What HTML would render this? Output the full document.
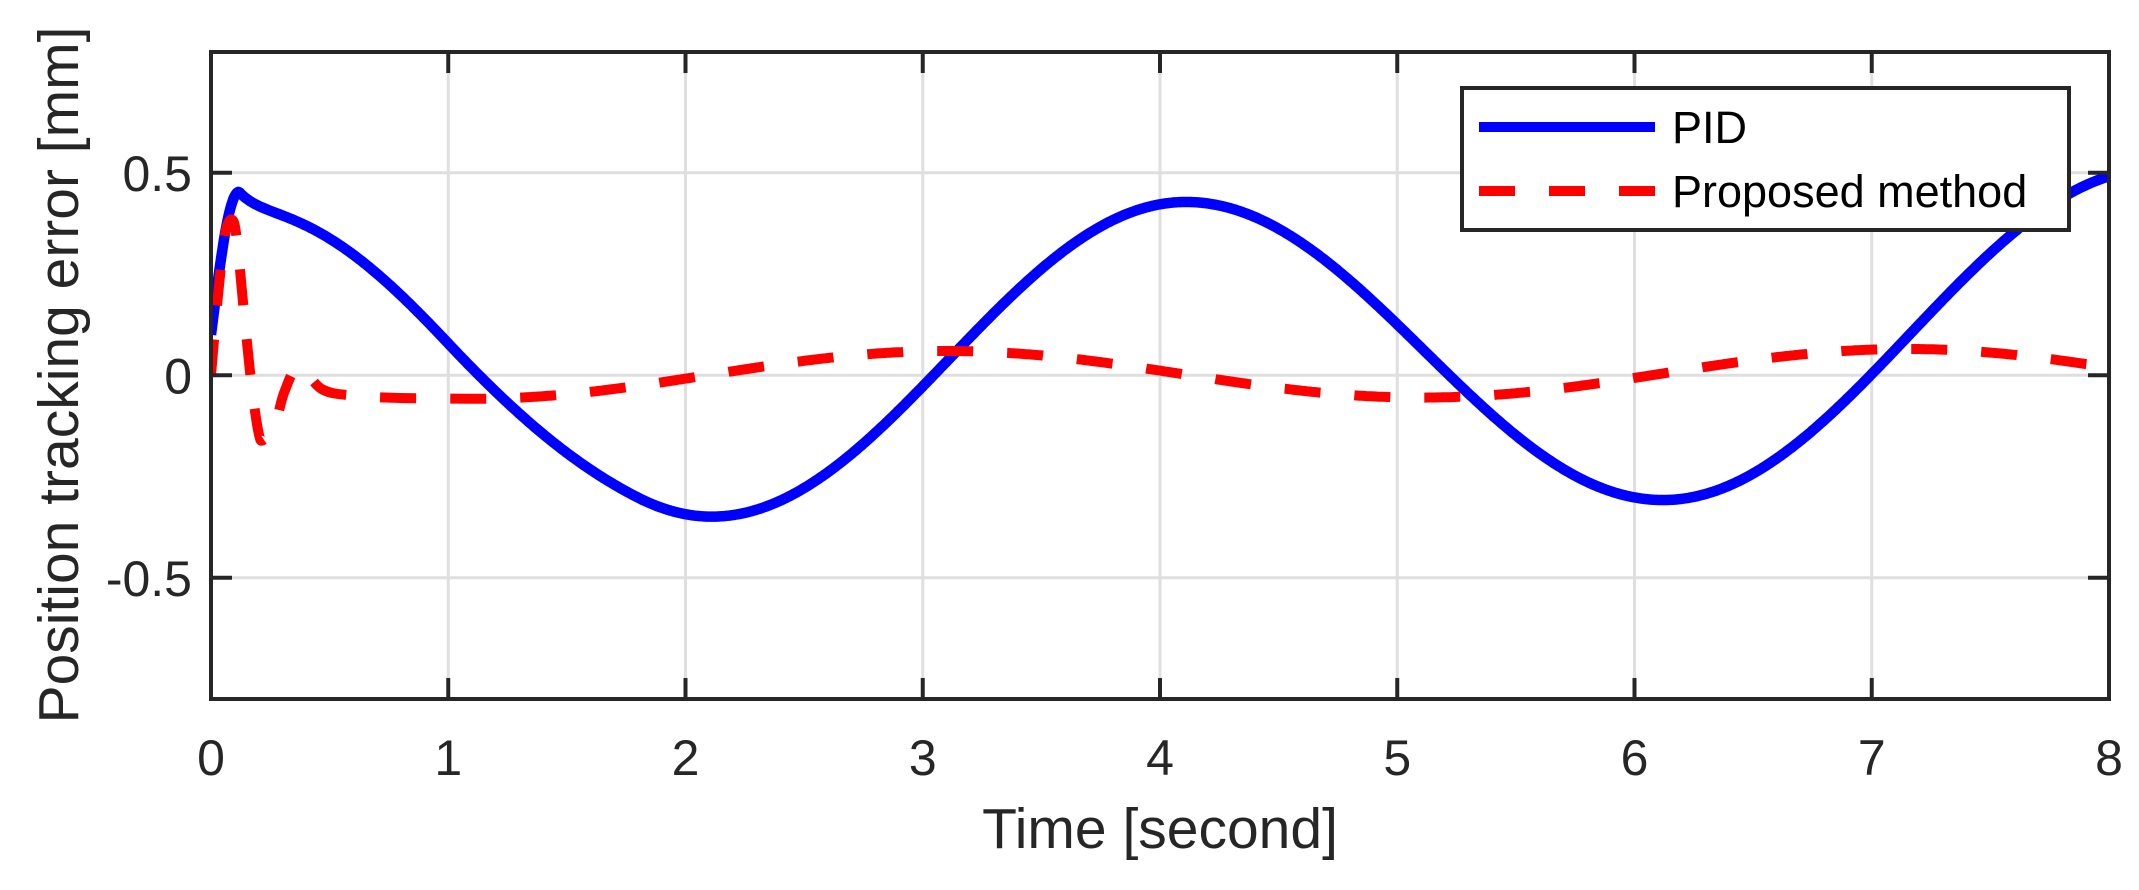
<!DOCTYPE html>
<html><head><meta charset="utf-8"><style>
html,body{margin:0;padding:0;background:#fff;}
svg{display:block;}
text{font-family:"Liberation Sans",Arial,sans-serif;fill:#262626;}
</style></head><body>
<svg id="s" width="2139" height="890" xmlns="http://www.w3.org/2000/svg">
<defs><clipPath id="c"><rect x="211" y="52" width="1898" height="647"/></clipPath></defs>
<rect width="2139" height="890" fill="#fff"/>
<g id="grid" stroke="#dfdfdf" stroke-width="3"></g>
<g clip-path="url(#c)">
<path id="blue" fill="none" stroke="#0000ff" stroke-width="10.5" stroke-linejoin="round"/>
<path id="red" fill="none" stroke="#ff0000" stroke-width="10" stroke-dasharray="36 34"/>
</g>
<g id="ticks" stroke="#262626" stroke-width="4"></g>
<rect x="211" y="52" width="1898" height="647" fill="none" stroke="#262626" stroke-width="4"/>
<g id="labels"></g>
<text x="1160" y="848" style="font-size:57px" text-anchor="middle">Time [second]</text>
<text transform="translate(78,375) rotate(-90)" style="font-size:57px" text-anchor="middle">Position tracking error [mm]</text>
<rect x="1462" y="88" width="607" height="142" fill="#fff" stroke="#262626" stroke-width="4"/>
<line x1="1479" y1="127" x2="1655" y2="127" stroke="#0000ff" stroke-width="10"/>
<line x1="1479" y1="191" x2="1655" y2="191" stroke="#ff0000" stroke-width="10" stroke-dasharray="36 34"/>
<text x="1672" y="143" style="font-size:45px;fill:#000">PID</text>
<text x="1672" y="207" style="font-size:45px;fill:#000">Proposed method</text>
</svg>
<script>
var X=function(t){return 211+t*237.25;}, Y=function(e){return 375.3-e*405;};
var ns="http://www.w3.org/2000/svg";
function el(p,n,a,txt){var e=document.createElementNS(ns,n);for(var k in a)e.setAttribute(k,a[k]);if(txt!=null)e.textContent=txt;document.getElementById(p).appendChild(e);return e;}
for(var i=1;i<8;i++){el("grid","line",{x1:X(i),y1:52,x2:X(i),y2:699});}
[0.5,0,-0.5].forEach(function(v){el("grid","line",{x1:211,y1:Y(v),x2:2109,y2:Y(v)});});
for(var i=0;i<=8;i++){el("ticks","line",{x1:X(i),y1:699,x2:X(i),y2:678});el("ticks","line",{x1:X(i),y1:52,x2:X(i),y2:73});
 el("labels","text",{x:X(i),y:775,"text-anchor":"middle",style:"font-size:50px"},String(i));}
[0.5,0,-0.5].forEach(function(v){var y=Y(v);el("ticks","line",{x1:211,y1:y,x2:232,y2:y});el("ticks","line",{x1:2109,y1:y,x2:2088,y2:y});
 el("labels","text",{x:192,y:y+18,"text-anchor":"end",style:"font-size:50px"},v==0?"0":(v>0?"0.5":"-0.5"));});
function path(pts){var P=pts.map(function(p){return [X(p[0]),Y(p[1])];});var d="M"+P[0][0]+","+P[0][1];
 for(var i=0;i<P.length-1;i++){var p0=P[Math.max(i-1,0)],p1=P[i],p2=P[i+1],p3=P[Math.min(i+2,P.length-1)];
 var c1=[p1[0]+(p2[0]-p0[0])/6,p1[1]+(p2[1]-p0[1])/6],c2=[p2[0]-(p3[0]-p1[0])/6,p2[1]-(p3[1]-p1[1])/6];
 d+=" C"+c1[0].toFixed(1)+","+c1[1].toFixed(1)+" "+c2[0].toFixed(1)+","+c2[1].toFixed(1)+" "+p2[0].toFixed(1)+","+p2[1].toFixed(1);}
 return d;}
function halfcos(ext,t){for(var i=0;i<ext.length-1;i++){var a=ext[i],b=ext[i+1];if(t>=a[0]&&t<=b[0]){var s=(t-a[0])/(b[0]-a[0]);return a[1]+(b[1]-a[1])*(1-Math.cos(Math.PI*s))/2;}}return 0;}
function tail(ext,t0,t1){var d="";for(var t=t0;t<=t1+1e-9;t+=0.01){d+=" L"+X(t).toFixed(1)+","+Y(halfcos(ext,t)).toFixed(1);}return d;}
var bext=[[0.118,0.453],[2.11,-0.349],[4.11,0.428],[6.12,-0.308],[8.2,0.51]];
function fb(t){
 if(t<0.118) return 0.1+0.353*Math.sin(Math.PI/2*t/0.118);
 var c=-0.045*(1-Math.exp(-(t-0.118)/0.07));
 if(t>1.0){var u=Math.min((t-1.0)/0.8,1);c*=1-u*u*(3-2*u);}
 return halfcos(bext,t)+c;}
var d="";for(var t=0;t<=8.05+1e-9;t+=0.005){d+=(t==0?"M":" L")+X(t).toFixed(1)+","+Y(fb(t)).toFixed(1);}
var rext=[[1.1,-0.058],[3.1,0.06],[5.1,-0.055],[7.15,0.065],[9.15,-0.055]];
var red=[[0,0],[0.03,0.2],[0.06,0.35],[0.09,0.384],[0.11,0.33],[0.14,0.15],[0.17,-0.02],[0.2,-0.14],[0.22,-0.16],[0.27,-0.12],[0.31,-0.04],[0.37,0.02],[0.47,-0.035],[0.6,-0.05],[0.8,-0.056],[1.1,-0.058]];
document.getElementById("blue").setAttribute("d",d);
document.getElementById("red").setAttribute("d",path(red)+tail(rext,1.11,8.05));
</script>
</body></html>
